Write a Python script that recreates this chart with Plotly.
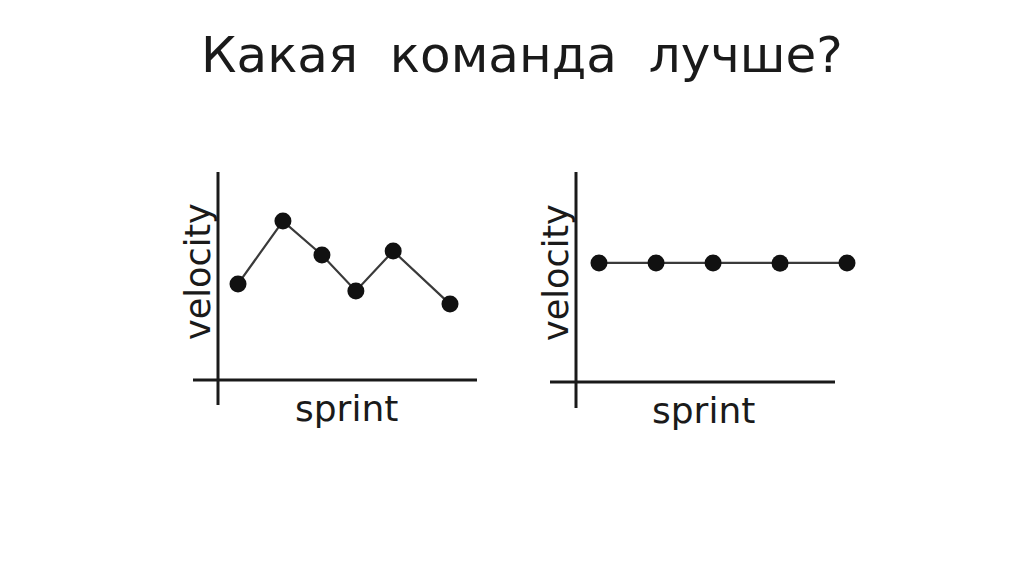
import plotly.graph_objects as go

title_text = "Какая  команда  лучше?"
x_label = "sprint"
y_label = "velocity"

# left team: uneven velocity
left_sprint = [1, 2.06, 2.98, 3.78, 4.66, 6.0]
left_velocity = [4.62, 7.64, 6.01, 4.28, 6.2, 3.65]

# right team: steady velocity
right_sprint = [1, 1.92, 2.84, 3.92, 5.0]
right_velocity = [5.67, 5.67, 5.67, 5.65, 5.67]

W, H = 1024, 574
OFF = 8  # page body margin
ink = "#1a1a1a"
line_ink = "#3a3a3a"

fig = go.Figure()
fig.add_trace(go.Scatter(x=left_sprint, y=left_velocity, mode="lines+markers",
                         line=dict(color=line_ink, width=2.2),
                         marker=dict(color="#111", size=17),
                         cliponaxis=False, xaxis="x", yaxis="y", showlegend=False))
fig.add_trace(go.Scatter(x=right_sprint, y=right_velocity, mode="lines+markers",
                         line=dict(color=line_ink, width=2.2),
                         marker=dict(color="#111", size=17),
                         cliponaxis=False, xaxis="x2", yaxis="y2", showlegend=False))

def px(xp):
    return (xp - OFF) / W

def py(yp):
    return 1 - (yp - OFF) / H

hidden = dict(visible=False, fixedrange=True)
R_END = 860
fig.update_layout(
    width=W, height=H,
    margin=dict(l=0, r=0, t=0, b=0),
    paper_bgcolor="white", plot_bgcolor="white",
    xaxis=dict(domain=[px(218), px(477)], range=[1 - 20 / 42.4, 1 + 239 / 42.4], anchor="y", **hidden),
    yaxis=dict(domain=[py(380), py(172)], range=[0, 10], anchor="x", **hidden),
    xaxis2=dict(domain=[px(576), px(R_END)], range=[1 - 23 / 62, 1 + (R_END - 599) / 62], anchor="y2", **hidden),
    yaxis2=dict(domain=[py(382), py(172)], range=[0, 10], anchor="x2", **hidden),
)

axis_line = dict(color=ink, width=3)
rw = R_END - 576
shapes = [
    dict(type="line", xref="x domain", yref="y domain", x0=-25 / 259, x1=1.0, y0=0, y1=0, line=axis_line),
    dict(type="line", xref="x domain", yref="y domain", x0=0, x1=0, y0=-25 / 208, y1=1.0, line=axis_line),
    dict(type="line", xref="x2 domain", yref="y2 domain", x0=-26 / rw, x1=(835 - 576) / rw, y0=0, y1=0, line=axis_line),
    dict(type="line", xref="x2 domain", yref="y2 domain", x0=0, x1=0, y0=-26 / 210, y1=1.0, line=axis_line),
]
fig.update_layout(shapes=shapes)

font_face = "DejaVu Sans"
ann = [
    dict(text=title_text, x=px(522), y=py(55), xref="paper", yref="paper", showarrow=False,
         font=dict(family=font_face, size=50, color=ink), xanchor="center", yanchor="middle"),
    dict(text=x_label, x=px(346), y=py(408), xref="paper", yref="paper", showarrow=False,
         font=dict(family=font_face, size=36, color=ink), xanchor="center", yanchor="middle"),
    dict(text=y_label, x=px(198), y=py(272), xref="paper", yref="paper", showarrow=False, textangle=-90,
         font=dict(family=font_face, size=35, color=ink), xanchor="center", yanchor="middle"),
    dict(text=x_label, x=px(703), y=py(410), xref="paper", yref="paper", showarrow=False,
         font=dict(family=font_face, size=36, color=ink), xanchor="center", yanchor="middle"),
    dict(text=y_label, x=px(556), y=py(273), xref="paper", yref="paper", showarrow=False, textangle=-90,
         font=dict(family=font_face, size=35, color=ink), xanchor="center", yanchor="middle"),
]
fig.update_layout(annotations=ann)

fig.write_html("out.html", config={"displayModeBar": False})
